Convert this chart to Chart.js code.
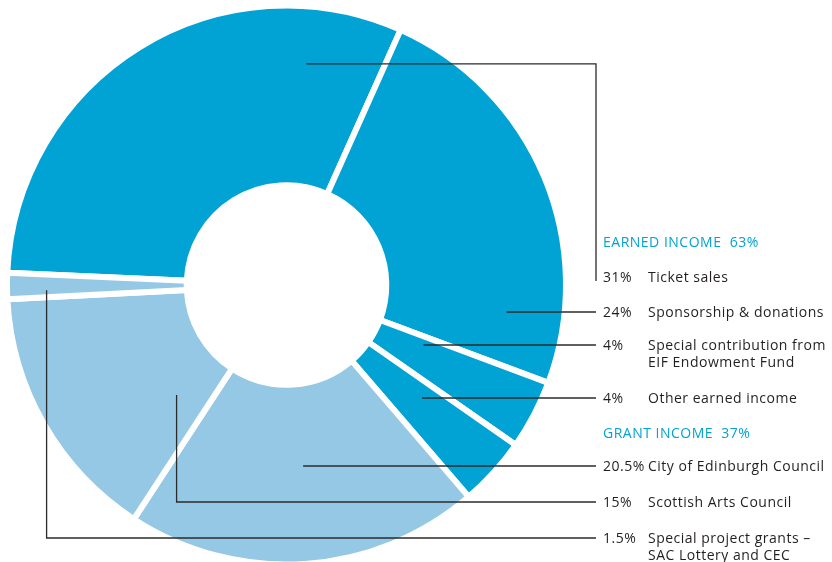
<!DOCTYPE html>
<html>
<head>
<meta charset="utf-8">
<script src="https://cdn.jsdelivr.net/npm/chart.js@4.4.1/dist/chart.umd.min.js"></script>
<style>
  html, body { margin: 0; padding: 0; background: #fff; overflow: hidden; }
  #wrap { position: relative; width: 832px; height: 570px; }
</style>
</head>
<body>
<div id="wrap"><canvas id="c"></canvas></div>
<script>
// data
const categories = [
  "Ticket sales",
  "Sponsorship & donations",
  "Special contribution from\nEIF Endowment Fund",
  "Other earned income",
  "City of Edinburgh Council",
  "Scottish Arts Council",
  "Special project grants –\nSAC Lottery and CEC",
];
const shares = [31, 24, 4, 4, 20.5, 15, 1.5];
const shareLabels = ["31%", "24%", "4%", "4%", "20.5%", "15%", "1.5%"];
const groups = ["earned", "earned", "earned", "earned", "grant", "grant", "grant"];
const groupTitles = { earned: "EARNED INCOME  63%", grant: "GRANT INCOME  37%" };

const DARK = "#00a3d3";
const LIGHT = "#94c8e4";
const INK = "#231f20";

// where each leader starts inside its slice (t = along the arc, r = across the ring)
// and how it reaches the text column
const leaders = [
  { t: 0.83, r: 0.68, route: "hv", row: 277 },
  { t: 0.85, r: 0.68, route: "h", row: 312 },
  { t: 0.25, r: 0.28, route: "h", row: 345 },
  { t: 0.36, r: 0.43, route: "h", row: 398 },
  { t: 0.48, r: 0.45, route: "h", row: 466 },
  { t: 0.22, r: 0.31, route: "vh", row: 502 },
  { t: 0.30, r: 0.78, route: "vh", row: 538 },
];
const titleRows = { earned: 243, grant: 434 };

const labelsPlugin = {
  id: "sideLabels",
  afterDraw(chart) {
    const ctx = chart.ctx;
    const arcs = chart.getDatasetMeta(0).data;
    const lineX = 596, pctX = 603, nameX = 648;
    ctx.save();
    ctx.strokeStyle = "#2b2b2b";
    ctx.lineWidth = 1.3;
    arcs.forEach((arc, i) => {
      const p = arc.getProps(["x", "y", "startAngle", "endAngle", "innerRadius", "outerRadius"], true);
      const L = leaders[i];
      const a = p.startAngle + (p.endAngle - p.startAngle) * L.t;
      const rad = p.innerRadius + (p.outerRadius - p.innerRadius) * L.r;
      const ax = p.x + Math.cos(a) * rad;
      const ay = p.y + Math.sin(a) * rad;
      ctx.beginPath();
      if (L.route === "h") {
        ctx.moveTo(ax, L.row); ctx.lineTo(lineX, L.row);
      } else if (L.route === "hv") {
        ctx.moveTo(ax, ay); ctx.lineTo(lineX, ay); ctx.lineTo(lineX, L.row + 4);
      } else {
        ctx.moveTo(ax, ay); ctx.lineTo(ax, L.row); ctx.lineTo(lineX, L.row);
      }
      ctx.stroke();
    });

    ctx.font = "500 14px 'Open Sans'";
    ctx.letterSpacing = "0.5px";
    ctx.textBaseline = "middle";
    ctx.fillStyle = DARK;
    Object.keys(groupTitles).forEach(g => ctx.fillText(groupTitles[g], pctX, titleRows[g]));
    ctx.fillStyle = INK;
    categories.forEach((name, i) => {
      const y = leaders[i].row + 1;
      ctx.fillText(shareLabels[i], pctX, y);
      name.split("\n").forEach((ln, k) => ctx.fillText(ln, nameX, y + k * 17));
    });
    ctx.restore();
  }
};

new Chart(document.getElementById("c"), {
  type: "doughnut",
  data: {
    labels: categories,
    datasets: [{
      data: shares,
      backgroundColor: groups.map(g => g === "earned" ? DARK : LIGHT),
      borderColor: "#ffffff",
      borderWidth: 6,
      hoverOffset: 0,
    }],
  },
  options: {
    responsive: true,
    maintainAspectRatio: false,
    animation: false,
    rotation: -87.5,
    cutout: "35.7%",
    layout: { padding: { left: 4, top: 2, right: 263, bottom: 2 } },
    plugins: { legend: { display: false }, tooltip: { enabled: false } },
  },
  plugins: [labelsPlugin],
});
</script>
</body>
</html>
